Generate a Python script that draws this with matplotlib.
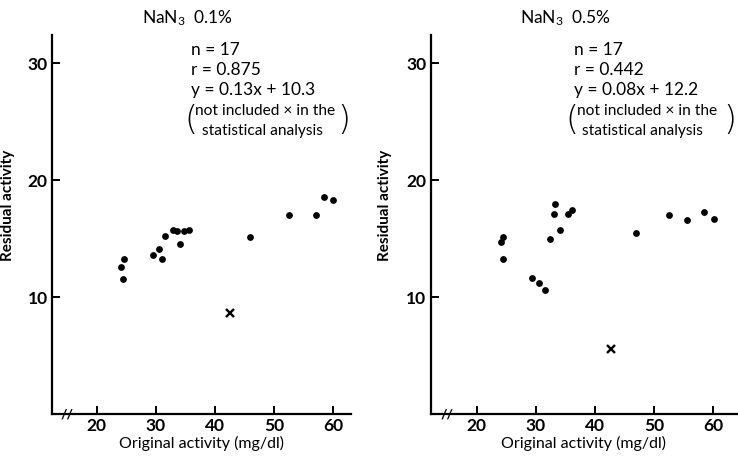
import matplotlib
matplotlib.use("Agg")
import matplotlib.pyplot as plt

plt.rcParams['font.family'] = ['Lato', 'DejaVu Sans']
plt.rcParams['mathtext.default'] = 'regular'

# Panel 1: NaN3 0.1%
x1 = [24.1, 24.4, 24.7, 29.5, 30.6, 31.1, 31.6, 32.9, 33.6, 34.1, 34.8, 35.65,
      45.96, 52.5, 57.0, 58.4, 60.0]
y1 = [12.57, 11.58, 13.3, 13.6, 14.1, 13.3, 15.2, 15.76, 15.65, 14.55, 15.68, 15.74,
      15.14, 17.06, 17.0, 18.56, 18.28]
excl1 = (42.5, 8.64)

# Panel 2: NaN3 0.5%
x2 = [24.1, 24.45, 24.4, 29.4, 30.5, 31.5, 32.3, 33.0, 33.3, 34.1, 35.4, 36.05,
      46.9, 52.5, 55.5, 58.4, 60.05]
y2 = [14.74, 15.16, 13.26, 11.61, 11.19, 10.61, 14.99, 17.07, 17.93, 15.76, 17.12, 17.47,
      15.45, 17.01, 16.61, 17.3, 16.7]
excl2 = (42.7, 5.6)

titles = ["NaN$_3$  0.1%", "NaN$_3$  0.5%"]
stats = [["n = 17", "r = 0.875", "y = 0.13x + 10.3"],
         ["n = 17", "r = 0.442", "y = 0.08x + 12.2"]]
note = ["not included \u00d7 in the", "statistical analysis"]
xticks = [20, 30, 40, 50, 60]
yticks = [10, 20, 30]
xlabel = "Original activity (mg/dl)"
ylabel = "Residual activity"

fig = plt.figure(figsize=(7.38, 4.57), dpi=100)
ax1 = fig.add_axes([0.0705, 0.094, 0.405, 0.829])
ax2 = fig.add_axes([0.5836, 0.094, 0.415, 0.829])

panels = [
    (ax1, x1, y1, excl1, (12.45, 62.98),
     dict(tx=0.455, nx=0.465, px_l=0.466, px_r=0.998, notx=0.48, statx=0.503, nfs=11.2)),
    (ax2, x2, y2, excl2, (12.2, 64.0),
     dict(tx=0.44, nx=0.468, px_l=0.461, px_r=0.997, notx=0.478, statx=0.493, nfs=11.2)),
]

for i, (ax, xs, ys, ex, xl, pos) in enumerate(panels):
    ax.scatter(xs, ys, s=15, color='black', zorder=3)
    ax.plot([ex[0]], [ex[1]], marker='x', color='black', markersize=5.5, mew=1.7, linestyle='none')
    ax.set_xlim(*xl)
    ax.set_ylim(0, 32.4)
    ax.set_xticks(xticks)
    ax.set_yticks(yticks)
    for s in ['top', 'right']:
        ax.spines[s].set_visible(False)
    for s in ['left', 'bottom']:
        ax.spines[s].set_linewidth(1.6)
    ax.tick_params(direction='in', length=6, width=1.4, labelsize=12.5, pad=3)
    for lab in ax.get_xticklabels() + ax.get_yticklabels():
        lab.set_fontweight('bold')
    ax.set_xlabel(xlabel, fontsize=11.5, labelpad=1)
    ax.set_ylabel(ylabel, fontsize=11, fontweight='bold')
    ax.yaxis.set_label_coords(-0.125, 0.55)
    ax.text(pos['tx'], 1.045, titles[i], transform=ax.transAxes, ha='center', va='center',
            fontsize=12.5)
    for j, s in enumerate(stats[i]):
        ax.text(pos['nx'], 0.962 - 0.053 * j, s, transform=ax.transAxes, ha='left',
                va='center', fontsize=12.5)
    ax.text(pos['notx'], 0.799, note[0], transform=ax.transAxes, ha='left', va='center',
            fontsize=pos['nfs'])
    ax.text(pos['statx'], 0.748, note[1], transform=ax.transAxes, ha='left', va='center',
            fontsize=pos['nfs'])
    ax.text(pos['px_l'], 0.774, "(", transform=ax.transAxes, ha='center', va='center',
            fontsize=24, fontweight='light', family='DejaVu Sans')
    ax.text(pos['px_r'], 0.774, ")", transform=ax.transAxes, ha='right', va='center',
            fontsize=24, fontweight='light', family='DejaVu Sans')
    # axis break mark
    ax.text(15.0, 0, "//", ha='center', va='center', fontsize=10, fontweight='bold',
            clip_on=False, zorder=5)

fig.savefig("out.png", dpi=100)
